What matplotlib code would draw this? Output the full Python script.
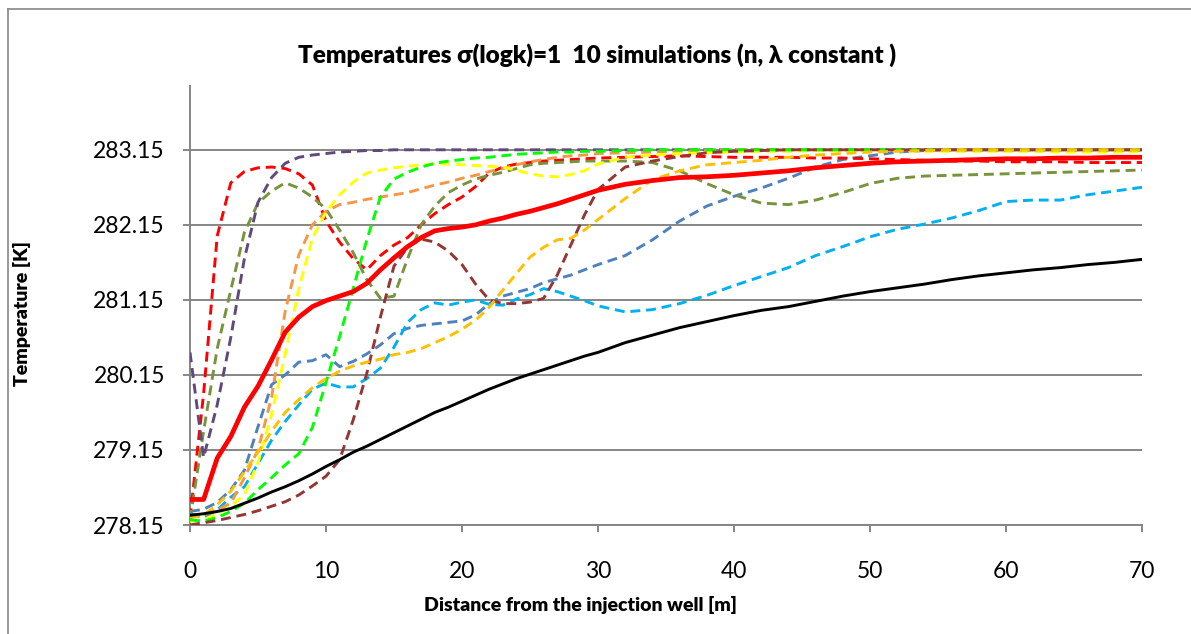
import matplotlib
matplotlib.use("Agg")
import matplotlib.pyplot as plt
from matplotlib.lines import Line2D

plt.rcParams['font.family'] = ['Lato', 'DejaVu Sans']

# distance from the injection well [m]
dist = [0, 1, 2, 3, 4, 5, 6, 7, 8, 9, 10, 11, 12, 13, 14, 15, 16, 17, 18, 19, 20,
        21, 22, 23, 24, 25, 26, 27, 28, 29, 30, 32, 34, 36, 38, 40, 42, 44, 46, 48,
        50, 52, 54, 56, 58, 60, 62, 64, 66, 68, 70]

# the 10 simulations (dashed)
sim_blue = [278.33, 278.36, 278.45, 278.62, 278.88, 279.46, 280.02, 280.15, 280.32, 280.34, 280.42,
            280.26, 280.33, 280.43, 280.55, 280.70, 280.77, 280.81, 280.83, 280.85, 280.87,
            280.95, 281.10, 281.20, 281.25, 281.30, 281.38, 281.43, 281.48, 281.55, 281.62,
            281.74, 281.95, 282.20, 282.40, 282.53, 282.64, 282.77, 282.92, 283.02,
            283.07, 283.12, 283.14, 283.15, 283.15, 283.15, 283.15, 283.15, 283.15, 283.15, 283.15]
sim_red = [278.24, 279.90, 282.00, 282.71, 282.86, 282.91, 282.92, 282.90, 282.83, 282.68, 282.20,
           281.92, 281.70, 281.55, 281.74, 281.88, 281.98, 282.15, 282.30, 282.42, 282.52,
           282.66, 282.84, 282.92, 282.96, 282.98, 283.00, 283.01, 283.02, 283.03, 283.04,
           283.05, 283.06, 283.07, 283.06, 283.05, 283.05, 283.05, 283.04, 283.04,
           283.03, 283.02, 283.01, 283.00, 283.00, 282.99, 282.99, 282.99, 282.98, 282.98, 282.98]
sim_olive = [278.22, 279.40, 280.50, 281.28, 282.05, 282.44, 282.60, 282.71, 282.64, 282.52, 282.36,
             282.08, 281.78, 281.42, 281.17, 281.20, 281.70, 282.15, 282.40, 282.58, 282.68,
             282.76, 282.81, 282.85, 282.90, 282.95, 282.97, 282.98, 282.99, 283.00, 283.00,
             283.00, 282.98, 282.87, 282.70, 282.55, 282.44, 282.42, 282.48, 282.58,
             282.70, 282.77, 282.80, 282.81, 282.82, 282.83, 282.84, 282.85, 282.86, 282.87, 282.88]
sim_purple = [280.45, 279.05, 279.75, 280.65, 281.70, 282.45, 282.78, 282.97, 283.05, 283.08, 283.10,
              283.12, 283.13, 283.14, 283.14, 283.15, 283.15, 283.15, 283.15, 283.15, 283.15,
              283.15, 283.15, 283.15, 283.15, 283.15, 283.15, 283.15, 283.15, 283.15, 283.15,
              283.15, 283.15, 283.15, 283.15, 283.15, 283.15, 283.15, 283.15, 283.15,
              283.15, 283.15, 283.15, 283.15, 283.15, 283.15, 283.15, 283.15, 283.15, 283.15, 283.15]
sim_cyan = [278.30, 278.25, 278.35, 278.52, 278.66, 278.97, 279.28, 279.53, 279.75, 279.96, 280.04,
            279.99, 279.99, 280.10, 280.24, 280.52, 280.85, 281.02, 281.11, 281.08, 281.12,
            281.15, 281.09, 281.08, 281.16, 281.22, 281.30, 281.26, 281.20, 281.14, 281.07,
            280.99, 281.02, 281.10, 281.21, 281.34, 281.46, 281.58, 281.74, 281.86,
            281.99, 282.09, 282.16, 282.24, 282.34, 282.46, 282.48, 282.48, 282.55, 282.60, 282.65]
sim_orange = [278.25, 278.28, 278.35, 278.44, 278.78, 279.15, 279.85, 281.00, 281.75, 282.15, 282.33,
              282.42, 282.45, 282.49, 282.52, 282.55, 282.58, 282.63, 282.68, 282.72, 282.77,
              282.81, 282.86, 282.90, 282.95, 282.99, 283.02, 283.05, 283.07, 283.08, 283.10,
              283.11, 283.12, 283.13, 283.14, 283.15, 283.15, 283.15, 283.15, 283.15,
              283.15, 283.15, 283.15, 283.15, 283.15, 283.15, 283.15, 283.15, 283.15, 283.15, 283.15]
sim_yellow = [278.20, 278.22, 278.30, 278.40, 278.55, 278.98, 279.62, 280.43, 281.30, 281.97, 282.32,
              282.55, 282.72, 282.84, 282.88, 282.91, 282.93, 282.95, 282.96, 282.96, 282.95,
              282.94, 282.93, 282.92, 282.88, 282.83, 282.80, 282.79, 282.82, 282.87, 282.96,
              283.05, 283.08, 283.10, 283.11, 283.12, 283.13, 283.13, 283.14, 283.14,
              283.14, 283.14, 283.13, 283.13, 283.13, 283.13, 283.13, 283.12, 283.12, 283.12, 283.13]
sim_lime = [278.22, 278.20, 278.25, 278.33, 278.44, 278.62, 278.78, 278.95, 279.10, 279.45, 280.05,
            280.66, 281.30, 281.95, 282.52, 282.76, 282.85, 282.92, 282.97, 283.00, 283.02,
            283.04, 283.05, 283.07, 283.09, 283.10, 283.11, 283.12, 283.12, 283.13, 283.13,
            283.14, 283.15, 283.15, 283.15, 283.15, 283.15, 283.15, 283.15, 283.15,
            283.15, 283.15, 283.15, 283.15, 283.15, 283.15, 283.15, 283.15, 283.15, 283.15, 283.15]
sim_brown = [278.15, 278.18, 278.21, 278.25, 278.29, 278.34, 278.40, 278.46, 278.55, 278.67, 278.80,
             279.02, 279.55, 280.17, 280.92, 281.60, 281.85, 281.96, 281.92, 281.80, 281.62,
             281.36, 281.15, 281.10, 281.10, 281.12, 281.17, 281.48, 281.88, 282.28, 282.62,
             282.92, 283.00, 283.06, 283.11, 283.13, 283.14, 283.15, 283.15, 283.15,
             283.15, 283.15, 283.15, 283.15, 283.15, 283.15, 283.15, 283.15, 283.15, 283.15, 283.15]
sim_gold = [278.26, 278.28, 278.42, 278.60, 278.86, 279.12, 279.40, 279.65, 279.82, 279.98, 280.10,
            280.20, 280.27, 280.32, 280.36, 280.42, 280.45, 280.50, 280.58, 280.66, 280.76,
            280.88, 281.05, 281.28, 281.50, 281.72, 281.85, 281.95, 281.97, 282.08, 282.22,
            282.50, 282.75, 282.87, 282.95, 282.98, 283.01, 283.05, 283.08, 283.10,
            283.12, 283.13, 283.14, 283.15, 283.15, 283.15, 283.15, 283.15, 283.15, 283.15, 283.15]

# mean of the simulations (thick red) and homogeneous case (black)
mean_T = [278.49, 278.49, 279.04, 279.33, 279.72, 280.00, 280.35, 280.72, 280.92, 281.06, 281.14,
          281.20, 281.26, 281.37, 281.55, 281.71, 281.86, 281.98, 282.07, 282.10, 282.12,
          282.15, 282.20, 282.24, 282.29, 282.33, 282.38, 282.43, 282.49, 282.55, 282.61,
          282.69, 282.74, 282.78, 282.79, 282.81, 282.84, 282.87, 282.91, 282.94,
          282.97, 282.99, 283.00, 283.01, 283.02, 283.03, 283.03, 283.04, 283.04, 283.05, 283.05]
homog_T = [278.28, 278.30, 278.33, 278.37, 278.44, 278.51, 278.59, 278.66, 278.74, 278.83, 278.93,
           279.02, 279.12, 279.20, 279.29, 279.38, 279.47, 279.56, 279.65, 279.72, 279.80,
           279.88, 279.96, 280.03, 280.10, 280.16, 280.22, 280.28, 280.34, 280.40, 280.45,
           280.58, 280.68, 280.78, 280.86, 280.94, 281.01, 281.06, 281.13, 281.20,
           281.26, 281.31, 281.36, 281.42, 281.47, 281.51, 281.55, 281.58, 281.62, 281.65, 281.69]

sims = [sim_blue, sim_red, sim_olive, sim_purple, sim_cyan,
        sim_orange, sim_yellow, sim_lime, sim_brown, sim_gold]
sim_colors = ['#4F81BD', '#FF0000', '#77933C', '#604A7B', '#00B0F0',
              '#F79646', '#FFFF00', '#00FF00', '#943634', '#FFC000']

y_ticks = [278.15, 279.15, 280.15, 281.15, 282.15, 283.15]
x_ticks = [0, 10, 20, 30, 40, 50, 60, 70]

GRAY = '#868686'
W, H = 1191, 634

fig = plt.figure(figsize=(W / 100, H / 100), dpi=100)
ax = fig.add_axes([190 / W, 109 / H, (1142 - 190) / W, (525 - 86) / H])

for T, c in zip(sims, sim_colors):
    ax.plot(dist, T, color=c, lw=2.1, dashes=(3.4, 2.0), zorder=3)
ax.plot(dist, homog_T, color='black', lw=2.1, zorder=4)
ax.plot(dist, mean_T, color='#FF0000', lw=3.4, zorder=5)

ax.set_xlim(0, 70)
ax.set_ylim(278.15, 284.0)
ax.set_xticks(x_ticks)
ax.set_xticklabels([str(v) for v in x_ticks])
ax.set_yticks(y_ticks)
ax.set_yticklabels([f"{v:.2f}" for v in y_ticks])
ax.yaxis.grid(True, color=GRAY, lw=1.4)
ax.set_axisbelow(True)

for s in ['top', 'right']:
    ax.spines[s].set_visible(False)
for s in ['left', 'bottom']:
    ax.spines[s].set_color(GRAY)
    ax.spines[s].set_linewidth(1.4)
ax.tick_params(axis='both', direction='out', length=5, width=1.4, color=GRAY,
               labelsize=16.5, labelcolor='black')
ax.tick_params(axis='y', pad=13)
ax.tick_params(axis='x', pad=21)

fig.text(597 / W, 1 - 55 / H, "Temperatures σ(logk)=1  10 simulations (n, λ constant )",
         ha='center', va='center', fontsize=17.5, fontweight='heavy')
fig.text(580 / W, 1 - 605 / H, "Distance from the injection well [m]",
         ha='center', va='center', fontsize=14, fontweight='heavy')
fig.text(22 / W, 1 - 313 / H, "Temperature [K]", rotation=90,
         ha='center', va='center', fontsize=14, fontweight='heavy')

# chart border (left and top edges visible in the reference)
fig.add_artist(Line2D([8 / W, 8 / W], [0, 1 - 9 / H], transform=fig.transFigure, color=GRAY, lw=1.2))
fig.add_artist(Line2D([8 / W, 1], [1 - 9 / H, 1 - 9 / H], transform=fig.transFigure, color=GRAY, lw=1.2))

fig.savefig("out.png", dpi=100)
